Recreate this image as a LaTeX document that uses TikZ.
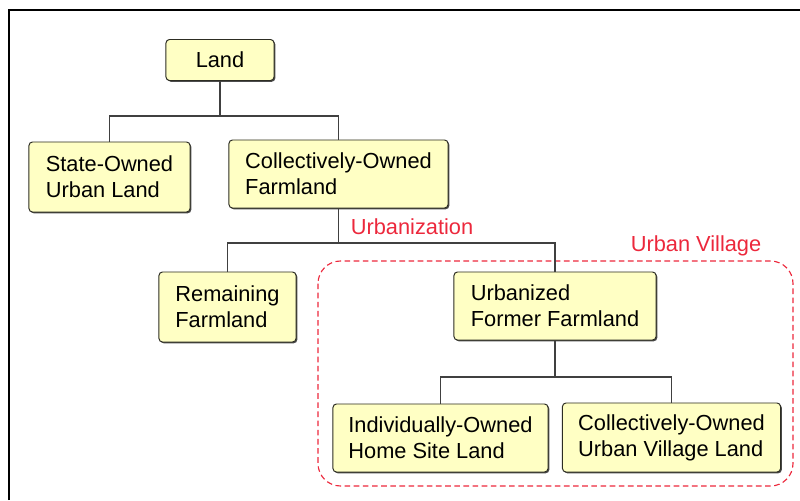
\documentclass[tikz,border=0pt]{standalone}
\usepackage{fontspec}
\setmainfont{Liberation Sans}
\usetikzlibrary{shadows}

\definecolor{boxfill}{RGB}{255,255,196}
\definecolor{boxline}{RGB}{45,45,35}
\definecolor{markred}{RGB}{236,40,60}

\begin{document}
\begin{tikzpicture}[x=0.025cm,y=-0.025cm,
    landbox/.style={draw=boxline,fill=boxfill,rounded corners=2.5pt,align=left,
        line width=0.7pt,inner sep=0pt,font=\fontsize{15.5}{18.5}\selectfont,
        drop shadow={shadow xshift=0.9pt,shadow yshift=-0.9pt,fill=black!70,opacity=1}},
    link/.style={draw=black!75,line width=0.9pt},
    redtext/.style={text=markred,inner sep=0pt,font=\fontsize{15.5}{18.5}\selectfont}]

    \useasboundingbox (0,0) rectangle (800,500);

    % Frame of the figure
    \draw[line width=1.5pt] (9,500) -- (9,10) -- (800,10);

    % Place the urban village region
    \draw[markred,dashed,line width=0.8pt,dash pattern=on 4pt off 2.5pt,rounded corners=16pt]
        (318,261) rectangle (793,486);
    \node[redtext] (village) at (696,246) {Urban Village};

    % Place the land nodes
    \node[landbox,minimum width=2.7cm,minimum height=1.025cm] (land) at (220,60) {Land};
    \node[landbox,minimum width=4.025cm,minimum height=1.75cm] (state) at (109.5,177) {State-Owned\\Urban Land};
    \node[landbox,minimum width=5.475cm,minimum height=1.7cm] (coll) at (338.5,174) {Collectively-Owned\\Farmland};
    \node[landbox,minimum width=3.425cm,minimum height=1.75cm] (rem) at (227.5,307) {Remaining\\Farmland};
    \node[landbox,minimum width=5.05cm,minimum height=1.7cm] (urb) at (555,306) {Urbanized\\Former Farmland};
    \node[landbox,minimum width=5.375cm,minimum height=1.7cm] (indiv) at (440.5,438) {Individually-Owned\\Home Site Land};
    \node[landbox,minimum width=5.45cm,minimum height=1.725cm] (cvil) at (671.5,437.5) {Collectively-Owned\\Urban Village Land};

    % Place the branch points
    \coordinate (j1) at (220,116);
    \coordinate (j2) at (338.5,243);
    \coordinate (j3) at (555,377);

    % Draw the tree
    \draw[link] (land) -- (j1);
    \draw[link] (j1) -| (state);
    \draw[link] (j1) -| (coll);
    \draw[link] (coll) -- (j2);
    \draw[link] (j2) -| (rem);
    \draw[link] (j2) -| (urb);
    \draw[link] (urb) -- (j3);
    \draw[link] (j3) -| (indiv);
    \draw[link] (j3) -| (cvil);

    \node[redtext] (urbz) at (412,227) {Urbanization};

\end{tikzpicture}
\end{document}
